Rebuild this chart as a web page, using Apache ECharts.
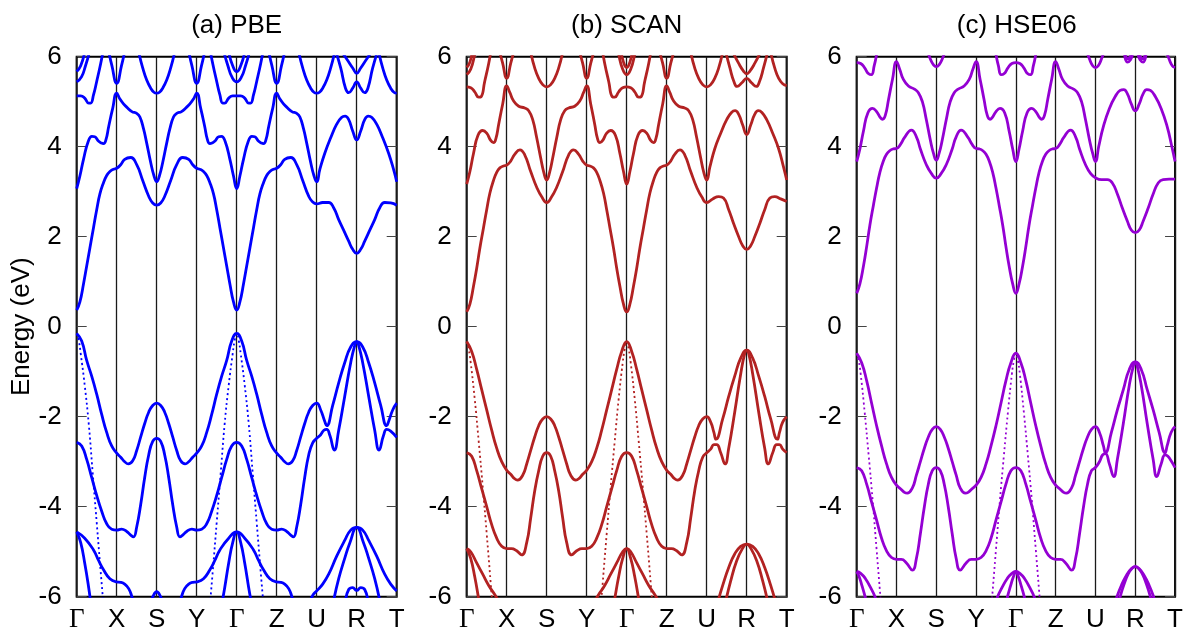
<!DOCTYPE html>
<html>
<head>
<meta charset="utf-8">
<script src="https://cdn.jsdelivr.net/npm/echarts@6/dist/echarts.min.js"></script>
<style>
  html, body { margin: 0; padding: 0; background: #fff; }
  #chart { width: 1186px; height: 638px; }
</style>
</head>
<body>
<div id="chart"></div>
<script>
// High-symmetry path (equally spaced along k) and energy ticks
const kLabels = ['Γ', 'X', 'S', 'Y', 'Γ', 'Z', 'U', 'R', 'T'];
const energyTicks = [-6, -4, -2, 0, 2, 4, 6];
const panelTitles = ['(a) PBE', '(b) SCAN', '(c) HSE06'];
const panelColors = ['#0000ff', '#b22222', '#9400d3'];

// ---------- (a) PBE : [k, E(eV)] ----------
const pbeVB1 = [[0,-0.15],[0.125,-0.32],[0.25,-0.75],[0.375,-1.1],[0.5,-1.5],[0.625,-1.95],[0.75,-2.35],[0.875,-2.65],[1,-2.81],
  [1.1,-2.9],[1.2,-3.0],[1.29,-3.05],[1.4,-2.98],[1.5,-2.75],[1.6,-2.45],[1.7,-2.15],[1.8,-1.9],[1.9,-1.75],[2,-1.7],
  [2.1,-1.75],[2.2,-1.9],[2.3,-2.15],[2.4,-2.45],[2.5,-2.75],[2.6,-2.98],[2.71,-3.05],[2.8,-3.0],[2.9,-2.9],[3,-2.81],
  [3.125,-2.65],[3.25,-2.35],[3.375,-1.95],[3.5,-1.5],[3.625,-1.1],[3.75,-0.75],[3.875,-0.32],[4,-0.15],
  [4.125,-0.32],[4.25,-0.75],[4.375,-1.1],[4.5,-1.5],[4.625,-1.95],[4.75,-2.35],[4.875,-2.65],[5,-2.81],
  [5.1,-2.9],[5.2,-3.0],[5.29,-3.05],[5.4,-2.98],[5.5,-2.75],[5.6,-2.45],[5.7,-2.15],[5.8,-1.9],[5.9,-1.75],[6,-1.7],
  [6.1,-1.85],[6.2,-2.1],[6.25,-2.2],[6.4,-1.75],[6.55,-1.25],[6.7,-0.8],[6.85,-0.45],[7,-0.33],
  [7.15,-0.45],[7.3,-0.8],[7.45,-1.25],[7.6,-1.75],[7.75,-2.2],[7.8,-2.1],[7.9,-1.85],[8,-1.7]];
const pbeVB2 = [[0,-2.57],[0.125,-2.65],[0.25,-2.95],[0.375,-3.35],[0.5,-3.75],[0.625,-4.1],[0.75,-4.38],[0.875,-4.5],[1,-4.52],
  [1.12,-4.5],[1.25,-4.55],[1.35,-4.63],[1.42,-4.67],[1.5,-4.45],[1.6,-3.95],[1.7,-3.35],[1.8,-2.85],[1.9,-2.55],[2,-2.48],
  [2.1,-2.55],[2.2,-2.85],[2.3,-3.35],[2.4,-3.95],[2.5,-4.45],[2.58,-4.67],[2.65,-4.63],[2.75,-4.55],[2.88,-4.5],[3,-4.52],
  [3.125,-4.5],[3.25,-4.38],[3.375,-4.1],[3.5,-3.75],[3.625,-3.35],[3.75,-2.95],[3.875,-2.65],[4,-2.57],
  [4.125,-2.65],[4.25,-2.95],[4.375,-3.35],[4.5,-3.75],[4.625,-4.1],[4.75,-4.38],[4.875,-4.5],[5,-4.52],
  [5.12,-4.5],[5.25,-4.55],[5.35,-4.63],[5.42,-4.67],[5.5,-4.45],[5.6,-3.95],[5.7,-3.35],[5.8,-2.85],[5.9,-2.58],[6,-2.48],
  [6.1,-2.4],[6.18,-2.3],[6.25,-2.28],[6.33,-2.42],[6.44,-2.74],[6.55,-2.3],[6.7,-1.55],[6.85,-0.8],[6.95,-0.42],[7,-0.33],
  [7.05,-0.42],[7.15,-0.8],[7.3,-1.55],[7.45,-2.3],[7.56,-2.74],[7.67,-2.42],[7.75,-2.28],[7.85,-2.32],[8,-2.46]];
const pbeDeep = [
  [[0,-4.56],[0.2,-4.7],[0.42,-4.96],[0.55,-5.2],[0.67,-5.4],[0.83,-5.6],[1,-5.67],[1.1,-5.68],[1.2,-5.72],[1.3,-5.82],[1.38,-6.0],[1.45,-6.2]],
  [[1.85,-6.15],[1.92,-5.97],[2,-5.89],[2.08,-5.97],[2.15,-6.15]],
  [[2.55,-6.2],[2.62,-6.0],[2.7,-5.82],[2.8,-5.72],[2.9,-5.68],[3,-5.67],[3.17,-5.6],[3.33,-5.4],[3.45,-5.2],[3.58,-4.96],[3.8,-4.7],[4,-4.56],
   [4.2,-4.7],[4.42,-4.96],[4.55,-5.2],[4.67,-5.4],[4.83,-5.6],[5,-5.67],[5.1,-5.68],[5.2,-5.72],[5.3,-5.82],[5.38,-6.0],[5.45,-6.2]],
  [[5.8,-6.2],[5.9,-5.97],[6,-5.87],[6.15,-5.72],[6.3,-5.5],[6.5,-5.1],[6.7,-4.75],[6.85,-4.52],[7,-4.46],
   [7.15,-4.52],[7.3,-4.75],[7.5,-5.1],[7.7,-5.5],[7.85,-5.72],[8,-5.87]],
  [[6.42,-6.1],[6.55,-5.6],[6.7,-5.15],[6.83,-4.8],[7,-4.46],[7.17,-4.8],[7.3,-5.15],[7.45,-5.6],[7.58,-6.1]],
  [[6.72,-6.1],[6.8,-5.84],[6.9,-5.8],[7,-5.86],[7.1,-5.8],[7.2,-5.84],[7.28,-6.1]],
  [[0,-4.56],[0.1,-4.8],[0.2,-5.25],[0.3,-5.8],[0.36,-6.2]],
  [[3.62,-6.2],[3.7,-5.8],[3.8,-5.25],[3.9,-4.8],[4,-4.56],[4.1,-4.8],[4.2,-5.25],[4.3,-5.8],[4.38,-6.2]]
];
const pbeSteep = [
  [[0,-0.15],[0.05,-0.3],[0.1,-0.6],[0.2,-1.3],[0.3,-2.15],[0.4,-3.25],[0.5,-4.35],[0.6,-5.45],[0.7,-6.5]],
  [[3.3,-6.5],[3.4,-5.45],[3.5,-4.35],[3.6,-3.25],[3.7,-2.15],[3.8,-1.3],[3.9,-0.6],[3.95,-0.3],[4,-0.15],
   [4.05,-0.3],[4.1,-0.6],[4.2,-1.3],[4.3,-2.15],[4.4,-3.25],[4.5,-4.35],[4.6,-5.45],[4.7,-6.5]]
];
const pbeCB1 = [[0,0.37],[0.08,0.55],[0.17,0.95],[0.25,1.35],[0.33,1.75],[0.42,2.2],[0.5,2.6],[0.58,2.95],[0.67,3.2],[0.75,3.36],[0.83,3.45],[0.92,3.5],[1,3.52],
  [1.1,3.6],[1.2,3.72],[1.35,3.76],[1.5,3.6],[1.65,3.25],[1.8,2.9],[1.9,2.75],[2,2.7],
  [2.1,2.75],[2.2,2.9],[2.35,3.25],[2.5,3.6],[2.65,3.76],[2.8,3.72],[2.9,3.6],[3,3.52],
  [3.08,3.5],[3.17,3.45],[3.25,3.36],[3.33,3.2],[3.42,2.95],[3.5,2.6],[3.58,2.2],[3.67,1.75],[3.75,1.35],[3.83,0.95],[3.92,0.55],[4,0.37],
  [4.08,0.55],[4.17,0.95],[4.25,1.35],[4.33,1.75],[4.42,2.2],[4.5,2.6],[4.58,2.95],[4.67,3.2],[4.75,3.36],[4.83,3.45],[4.92,3.5],[5,3.52],
  [5.1,3.6],[5.2,3.72],[5.35,3.76],[5.5,3.6],[5.65,3.25],[5.8,2.9],[5.9,2.77],[6,2.73],
  [6.15,2.76],[6.3,2.76],[6.42,2.65],[6.55,2.38],[6.67,2.15],[6.8,1.9],[6.9,1.72],[7,1.63],
  [7.1,1.72],[7.2,1.9],[7.33,2.15],[7.45,2.38],[7.58,2.65],[7.7,2.76],[7.85,2.75],[8,2.7]];
const pbeCB2 = [[0,3.07],[0.08,3.35],[0.17,3.72],[0.29,4.12],[0.38,4.23],[0.45,4.22],[0.55,4.12],[0.62,4.08],[0.67,4.07],[0.73,4.15],[0.8,4.45],[0.9,4.85],[1,5.19],
  [1.08,5.06],[1.17,4.95],[1.25,4.88],[1.38,4.78],[1.5,4.74],[1.58,4.66],[1.67,4.4],[1.75,4.08],[1.85,3.65],[1.93,3.36],[2,3.22],
  [2.07,3.36],[2.15,3.65],[2.25,4.08],[2.33,4.4],[2.42,4.66],[2.5,4.74],[2.62,4.78],[2.75,4.88],[2.83,4.95],[2.92,5.06],[3,5.19],
  [3.1,4.85],[3.2,4.45],[3.27,4.15],[3.33,4.07],[3.38,4.08],[3.45,4.12],[3.55,4.22],[3.62,4.23],[3.71,4.12],[3.83,3.72],[3.92,3.35],[4,3.07],
  [4.08,3.35],[4.17,3.72],[4.29,4.12],[4.38,4.23],[4.45,4.22],[4.55,4.12],[4.62,4.08],[4.67,4.07],[4.73,4.15],[4.8,4.45],[4.9,4.85],[5,5.19],
  [5.08,5.06],[5.17,4.95],[5.25,4.88],[5.38,4.78],[5.5,4.74],[5.58,4.66],[5.67,4.4],[5.75,4.08],[5.85,3.65],[5.93,3.36],[6,3.22],
  [6.08,3.5],[6.2,3.85],[6.35,4.2],[6.5,4.5],[6.62,4.65],[6.71,4.68],[6.8,4.6],[6.9,4.35],[7,4.15],
  [7.1,4.35],[7.2,4.6],[7.29,4.68],[7.38,4.65],[7.5,4.5],[7.65,4.2],[7.8,3.85],[7.92,3.5],[8,3.22]];
const pbeHigh = [
  [[0,5.13],[0.1,5.13],[0.2,5.08],[0.3,4.97],[0.35,4.97],[0.42,5.15],[0.5,5.45],[0.6,5.85],[0.7,6.3]],
  [[0,5.44],[0.12,5.55],[0.22,5.8],[0.32,6.1]],
  [[0,5.67],[0.1,5.8],[0.2,6.1]],
  [[0.78,6.2],[0.88,5.8],[1,5.41],[1.12,5.8],[1.22,6.2]],
  [[1.55,6.1],[1.65,5.75],[1.75,5.48],[1.85,5.3],[1.93,5.21],[2,5.19],[2.07,5.21],[2.15,5.3],[2.25,5.48],[2.35,5.75],[2.45,6.1]],
  [[2.78,6.2],[2.88,5.8],[3,5.41],[3.12,5.8],[3.22,6.2]],
  [[3.3,6.3],[3.4,5.85],[3.5,5.45],[3.58,5.15],[3.65,4.97],[3.7,4.97],[3.8,5.08],[3.9,5.13],[4,5.13],
   [4.1,5.13],[4.2,5.08],[4.3,4.97],[4.35,4.97],[4.42,5.15],[4.5,5.45],[4.6,5.85],[4.7,6.3]],
  [[3.68,6.1],[3.78,5.8],[3.88,5.55],[4,5.44],[4.12,5.55],[4.22,5.8],[4.32,6.1]],
  [[3.8,6.1],[3.9,5.8],[4,5.67],[4.1,5.8],[4.2,6.1]],
  [[4.78,6.2],[4.88,5.8],[5,5.41],[5.12,5.8],[5.22,6.2]],
  [[5.55,6.1],[5.65,5.75],[5.75,5.48],[5.85,5.3],[5.93,5.21],[6,5.19],[6.07,5.21],[6.15,5.3],[6.25,5.48],[6.35,5.75],[6.45,6.1]],
  [[6.45,6.2],[6.6,5.75],[6.72,5.3],[6.8,5.2],[6.9,5.3],[7,5.44],[7.1,5.3],[7.2,5.2],[7.28,5.3],[7.4,5.75],[7.55,6.2]],
  [[6.55,6.2],[6.75,5.95],[6.9,5.75],[7,5.63],[7.1,5.75],[7.25,5.95],[7.45,6.2]],
  [[7.55,6.1],[7.65,5.75],[7.75,5.48],[7.85,5.3],[7.93,5.21],[8,5.19]]
];

// ---------- (b) SCAN ----------
const scanVB1 = [[0,-0.33],[0.125,-0.55],[0.25,-0.95],[0.375,-1.4],[0.5,-1.85],[0.625,-2.3],[0.75,-2.7],[0.875,-3.0],[1,-3.19],
  [1.1,-3.28],[1.2,-3.38],[1.27,-3.41],[1.4,-3.3],[1.5,-3.05],[1.6,-2.75],[1.7,-2.45],[1.8,-2.2],[1.9,-2.05],[2,-2.0],
  [2.1,-2.05],[2.2,-2.2],[2.3,-2.45],[2.4,-2.75],[2.5,-3.05],[2.6,-3.3],[2.73,-3.41],[2.8,-3.38],[2.9,-3.28],[3,-3.19],
  [3.125,-3.0],[3.25,-2.7],[3.375,-2.3],[3.5,-1.85],[3.625,-1.4],[3.75,-0.95],[3.875,-0.55],[4,-0.33],
  [4.125,-0.55],[4.25,-0.95],[4.375,-1.4],[4.5,-1.85],[4.625,-2.3],[4.75,-2.7],[4.875,-3.0],[5,-3.19],
  [5.1,-3.28],[5.2,-3.38],[5.27,-3.41],[5.4,-3.3],[5.5,-3.05],[5.6,-2.75],[5.7,-2.45],[5.8,-2.2],[5.9,-2.05],[6,-2.0],
  [6.1,-2.12],[6.18,-2.35],[6.23,-2.5],[6.4,-2.05],[6.55,-1.55],[6.7,-1.1],[6.85,-0.7],[7,-0.52],
  [7.15,-0.7],[7.3,-1.1],[7.45,-1.55],[7.6,-2.05],[7.77,-2.5],[7.82,-2.35],[7.9,-2.12],[8,-2.0]];
const scanVB2 = [[0,-2.8],[0.125,-2.88],[0.25,-3.2],[0.375,-3.6],[0.5,-4.0],[0.625,-4.4],[0.75,-4.7],[0.875,-4.88],[1,-4.93],
  [1.12,-4.93],[1.25,-4.98],[1.375,-5.07],[1.5,-4.8],[1.6,-4.25],[1.7,-3.65],[1.8,-3.2],[1.9,-2.88],[2,-2.8],
  [2.1,-2.88],[2.2,-3.2],[2.3,-3.65],[2.4,-4.25],[2.5,-4.8],[2.625,-5.07],[2.75,-4.98],[2.88,-4.93],[3,-4.93],
  [3.125,-4.88],[3.25,-4.7],[3.375,-4.4],[3.5,-4.0],[3.625,-3.6],[3.75,-3.2],[3.875,-2.88],[4,-2.8],
  [4.125,-2.88],[4.25,-3.2],[4.375,-3.6],[4.5,-4.0],[4.625,-4.4],[4.75,-4.7],[4.875,-4.88],[5,-4.93],
  [5.12,-4.93],[5.25,-4.98],[5.375,-5.07],[5.5,-4.8],[5.6,-4.25],[5.7,-3.65],[5.8,-3.2],[5.9,-2.9],[6,-2.8],
  [6.1,-2.72],[6.18,-2.62],[6.25,-2.62],[6.35,-2.8],[6.46,-3.05],[6.55,-2.7],[6.7,-1.9],[6.85,-1.05],[6.95,-0.6],[7,-0.52],
  [7.05,-0.6],[7.15,-1.05],[7.3,-1.9],[7.45,-2.7],[7.54,-3.05],[7.65,-2.8],[7.75,-2.62],[7.82,-2.62],[7.9,-2.72],[8,-2.8]];
const scanDeep = [
  [[0,-4.93],[0.1,-5.0],[0.25,-5.25],[0.4,-5.5],[0.55,-5.75],[0.7,-5.95],[0.8,-6.1],[0.9,-6.25]],
  [[0,-4.93],[0.1,-5.15],[0.2,-5.55],[0.3,-6.05],[0.35,-6.3]],
  [[3.1,-6.25],[3.2,-6.1],[3.3,-5.95],[3.45,-5.75],[3.6,-5.5],[3.75,-5.25],[3.9,-5.0],[4,-4.93],
   [4.1,-5.0],[4.25,-5.25],[4.4,-5.5],[4.55,-5.75],[4.7,-5.95],[4.8,-6.1],[4.9,-6.25]],
  [[3.65,-6.3],[3.7,-6.05],[3.8,-5.55],[3.9,-5.15],[4,-4.93],[4.1,-5.15],[4.2,-5.55],[4.3,-6.05],[4.35,-6.3]],
  [[6.25,-6.2],[6.4,-5.75],[6.55,-5.35],[6.7,-5.05],[6.85,-4.88],[7,-4.83],[7.15,-4.88],[7.3,-5.05],[7.45,-5.35],[7.6,-5.75],[7.75,-6.2]],
  [[6.45,-6.2],[6.6,-5.65],[6.75,-5.2],[6.9,-4.92],[7,-4.83],[7.1,-4.92],[7.25,-5.2],[7.4,-5.65],[7.55,-6.2]]
];
const scanSteep = [
  [[0,-0.33],[0.05,-0.5],[0.1,-0.8],[0.2,-1.6],[0.3,-2.55],[0.4,-3.55],[0.5,-4.6],[0.6,-5.7],[0.66,-6.4]],
  [[3.34,-6.4],[3.4,-5.7],[3.5,-4.6],[3.6,-3.55],[3.7,-2.55],[3.8,-1.6],[3.9,-0.8],[3.95,-0.5],[4,-0.33],
   [4.05,-0.5],[4.1,-0.8],[4.2,-1.6],[4.3,-2.55],[4.4,-3.55],[4.5,-4.6],[4.6,-5.7],[4.66,-6.4]]
];
const scanCB1 = [[0,0.33],[0.08,0.5],[0.17,0.9],[0.25,1.3],[0.33,1.75],[0.42,2.2],[0.5,2.6],[0.58,2.97],[0.67,3.25],[0.75,3.43],[0.83,3.53],[0.92,3.57],[1,3.59],
  [1.1,3.68],[1.2,3.83],[1.33,3.93],[1.45,3.82],[1.6,3.45],[1.75,3.1],[1.88,2.88],[2,2.76],
  [2.12,2.88],[2.25,3.1],[2.4,3.45],[2.55,3.82],[2.67,3.93],[2.8,3.83],[2.9,3.68],[3,3.59],
  [3.08,3.57],[3.17,3.53],[3.25,3.43],[3.33,3.25],[3.42,2.97],[3.5,2.6],[3.58,2.2],[3.67,1.75],[3.75,1.3],[3.83,0.9],[3.92,0.5],[4,0.33],
  [4.08,0.5],[4.17,0.9],[4.25,1.3],[4.33,1.75],[4.42,2.2],[4.5,2.6],[4.58,2.97],[4.67,3.25],[4.75,3.43],[4.83,3.53],[4.92,3.57],[5,3.59],
  [5.1,3.68],[5.2,3.83],[5.33,3.93],[5.45,3.82],[5.6,3.45],[5.75,3.1],[5.88,2.88],[6,2.76],
  [6.15,2.84],[6.3,2.89],[6.42,2.86],[6.55,2.6],[6.67,2.3],[6.8,2.0],[6.9,1.8],[7,1.72],
  [7.1,1.8],[7.2,2.0],[7.33,2.3],[7.45,2.6],[7.58,2.86],[7.7,2.89],[7.85,2.84],[8,2.78]];
const scanCB2 = [[0,3.17],[0.08,3.45],[0.17,3.85],[0.28,4.25],[0.4,4.36],[0.5,4.3],[0.6,4.14],[0.67,4.09],[0.73,4.18],[0.8,4.5],[0.9,4.95],[1,5.35],
  [1.08,5.2],[1.17,5.02],[1.3,4.9],[1.45,4.86],[1.55,4.8],[1.65,4.6],[1.75,4.2],[1.85,3.75],[1.93,3.42],[2,3.26],
  [2.07,3.42],[2.15,3.75],[2.25,4.2],[2.35,4.6],[2.45,4.8],[2.55,4.86],[2.7,4.9],[2.83,5.02],[2.92,5.2],[3,5.35],
  [3.1,4.95],[3.2,4.5],[3.27,4.18],[3.33,4.09],[3.4,4.14],[3.5,4.3],[3.6,4.36],[3.72,4.25],[3.83,3.85],[3.92,3.45],[4,3.17],
  [4.08,3.45],[4.17,3.85],[4.28,4.25],[4.4,4.36],[4.5,4.3],[4.6,4.14],[4.67,4.09],[4.73,4.18],[4.8,4.5],[4.9,4.95],[5,5.35],
  [5.08,5.2],[5.17,5.02],[5.3,4.9],[5.45,4.86],[5.55,4.8],[5.65,4.6],[5.75,4.2],[5.85,3.75],[5.93,3.42],[6,3.26],
  [6.08,3.55],[6.2,3.95],[6.35,4.3],[6.5,4.6],[6.62,4.76],[6.71,4.8],[6.8,4.72],[6.9,4.48],[7,4.27],
  [7.1,4.48],[7.2,4.72],[7.29,4.8],[7.38,4.76],[7.5,4.6],[7.65,4.3],[7.8,3.95],[7.92,3.55],[8,3.26]];
const scanHigh = [
  [[0,5.33],[0.1,5.31],[0.2,5.22],[0.3,5.1],[0.36,5.11],[0.45,5.45],[0.55,5.85],[0.62,6.2]],
  [[0,5.6],[0.1,5.72],[0.2,6.05],[0.25,6.3]],
  [[0,5.76],[0.08,5.88],[0.16,6.2]],
  [[0.8,6.2],[0.9,5.85],[1,5.52],[1.1,5.85],[1.2,6.2]],
  [[1.6,6.1],[1.7,5.75],[1.8,5.52],[1.9,5.38],[2,5.33],[2.1,5.38],[2.2,5.52],[2.3,5.75],[2.4,6.1]],
  [[2.8,6.2],[2.9,5.85],[3,5.52],[3.1,5.85],[3.2,6.2]],
  [[3.38,6.2],[3.45,5.85],[3.55,5.45],[3.64,5.11],[3.7,5.1],[3.8,5.22],[3.9,5.31],[4,5.33],
   [4.1,5.31],[4.2,5.22],[4.3,5.1],[4.36,5.11],[4.45,5.45],[4.55,5.85],[4.62,6.2]],
  [[3.75,6.3],[3.8,6.05],[3.9,5.72],[4,5.6],[4.1,5.72],[4.2,6.05],[4.25,6.3]],
  [[3.84,6.2],[3.92,5.88],[4,5.76],[4.08,5.88],[4.16,6.2]],
  [[4.8,6.2],[4.9,5.85],[5,5.52],[5.1,5.85],[5.2,6.2]],
  [[5.6,6.1],[5.7,5.75],[5.8,5.52],[5.9,5.38],[6,5.33],[6.1,5.38],[6.2,5.52],[6.3,5.75],[6.4,6.1]],
  [[6.45,6.2],[6.58,5.75],[6.68,5.45],[6.76,5.34],[6.88,5.42],[7,5.52],[7.12,5.42],[7.24,5.34],[7.32,5.45],[7.42,5.75],[7.55,6.2]],
  [[6.6,6.2],[6.8,5.85],[6.92,5.68],[7,5.62],[7.08,5.68],[7.2,5.85],[7.4,6.2]],
  [[7.6,6.1],[7.7,5.75],[7.8,5.52],[7.9,5.4],[8,5.36]]
];

// ---------- (c) HSE06 ----------
const hseVB1 = [[0,-0.59],[0.125,-0.8],[0.25,-1.2],[0.375,-1.7],[0.5,-2.2],[0.625,-2.65],[0.75,-3.05],[0.875,-3.35],[1,-3.52],
  [1.1,-3.6],[1.2,-3.68],[1.27,-3.7],[1.4,-3.58],[1.5,-3.3],[1.6,-3.0],[1.7,-2.7],[1.8,-2.45],[1.9,-2.28],[2,-2.22],
  [2.1,-2.28],[2.2,-2.45],[2.3,-2.7],[2.4,-3.0],[2.5,-3.3],[2.6,-3.58],[2.73,-3.7],[2.8,-3.68],[2.9,-3.6],[3,-3.52],
  [3.125,-3.35],[3.25,-3.05],[3.375,-2.65],[3.5,-2.2],[3.625,-1.7],[3.75,-1.2],[3.875,-0.8],[4,-0.59],
  [4.125,-0.8],[4.25,-1.2],[4.375,-1.7],[4.5,-2.2],[4.625,-2.65],[4.75,-3.05],[4.875,-3.35],[5,-3.52],
  [5.1,-3.6],[5.2,-3.68],[5.27,-3.7],[5.4,-3.58],[5.5,-3.3],[5.6,-3.0],[5.7,-2.7],[5.8,-2.45],[5.9,-2.28],[6,-2.22],
  [6.1,-2.35],[6.2,-2.65],[6.25,-2.8],[6.4,-2.35],[6.55,-1.85],[6.7,-1.4],[6.85,-0.95],[7,-0.78],
  [7.15,-0.95],[7.3,-1.4],[7.45,-1.85],[7.6,-2.35],[7.75,-2.8],[7.8,-2.65],[7.9,-2.35],[8,-2.22]];
const hseVB2 = [[0,-3.13],[0.125,-3.2],[0.25,-3.5],[0.375,-3.9],[0.5,-4.3],[0.625,-4.7],[0.75,-4.98],[0.875,-5.13],[1,-5.17],
  [1.12,-5.17],[1.25,-5.25],[1.4,-5.41],[1.5,-5.15],[1.6,-4.6],[1.7,-4.0],[1.8,-3.5],[1.9,-3.2],[2,-3.13],
  [2.1,-3.2],[2.2,-3.5],[2.3,-4.0],[2.4,-4.6],[2.5,-5.15],[2.6,-5.41],[2.75,-5.25],[2.88,-5.17],[3,-5.17],
  [3.125,-5.13],[3.25,-4.98],[3.375,-4.7],[3.5,-4.3],[3.625,-3.9],[3.75,-3.5],[3.875,-3.2],[4,-3.13],
  [4.125,-3.2],[4.25,-3.5],[4.375,-3.9],[4.5,-4.3],[4.625,-4.7],[4.75,-4.98],[4.875,-5.13],[5,-5.17],
  [5.12,-5.17],[5.25,-5.25],[5.4,-5.41],[5.5,-5.15],[5.6,-4.6],[5.7,-4.0],[5.8,-3.5],[5.9,-3.2],[6,-3.13],
  [6.1,-3.0],[6.18,-2.85],[6.25,-2.82],[6.35,-3.05],[6.46,-3.33],[6.55,-2.95],[6.7,-2.15],[6.85,-1.3],[6.95,-0.88],[7,-0.78],
  [7.05,-0.88],[7.15,-1.3],[7.3,-2.15],[7.45,-2.95],[7.54,-3.33],[7.65,-3.05],[7.75,-2.85],[7.82,-2.88],[7.9,-2.98],[8,-3.13]];
const hseDeep = [
  [[0,-5.44],[0.1,-5.48],[0.22,-5.6],[0.35,-5.8],[0.46,-6.0],[0.55,-6.25]],
  [[0,-5.44],[0.06,-5.55],[0.13,-5.75],[0.21,-6.0],[0.28,-6.3]],
  [[3.45,-6.25],[3.54,-6.0],[3.65,-5.8],[3.78,-5.6],[3.9,-5.48],[4,-5.44],[4.1,-5.48],[4.22,-5.6],[4.35,-5.8],[4.46,-6.0],[4.55,-6.25]],
  [[3.72,-6.3],[3.79,-6.0],[3.87,-5.75],[3.94,-5.55],[4,-5.44],[4.06,-5.55],[4.13,-5.75],[4.21,-6.0],[4.28,-6.3]],
  [[6.45,-6.25],[6.54,-6.0],[6.65,-5.75],[6.78,-5.52],[6.9,-5.38],[7,-5.33],[7.1,-5.38],[7.22,-5.52],[7.35,-5.75],[7.46,-6.0],[7.55,-6.25]],
  [[6.55,-6.25],[6.62,-6.0],[6.72,-5.72],[6.82,-5.5],[6.92,-5.37],[7,-5.33],[7.08,-5.37],[7.18,-5.5],[7.28,-5.72],[7.38,-6.0],[7.45,-6.25]]
];
const hseSteep = [
  [[0,-0.59],[0.05,-0.75],[0.1,-1.05],[0.2,-1.9],[0.3,-2.85],[0.4,-3.85],[0.5,-4.95],[0.6,-6.05],[0.65,-6.6]],
  [[3.35,-6.6],[3.4,-6.05],[3.5,-4.95],[3.6,-3.85],[3.7,-2.85],[3.8,-1.9],[3.9,-1.05],[3.95,-0.75],[4,-0.59],
   [4.05,-0.75],[4.1,-1.05],[4.2,-1.9],[4.3,-2.85],[4.4,-3.85],[4.5,-4.95],[4.6,-6.05],[4.65,-6.6]]
];
const hseCB1 = [[0,0.74],[0.08,0.95],[0.17,1.35],[0.25,1.78],[0.33,2.25],[0.42,2.7],[0.5,3.08],[0.58,3.42],[0.67,3.68],[0.75,3.83],[0.83,3.91],[0.92,3.95],[1,3.96],
  [1.1,4.05],[1.2,4.2],[1.375,4.37],[1.5,4.22],[1.6,3.95],[1.75,3.6],[1.88,3.4],[2,3.3],
  [2.12,3.4],[2.25,3.6],[2.4,3.95],[2.5,4.22],[2.625,4.37],[2.8,4.2],[2.9,4.05],[3,3.96],
  [3.08,3.95],[3.17,3.91],[3.25,3.83],[3.33,3.68],[3.42,3.42],[3.5,3.08],[3.58,2.7],[3.67,2.25],[3.75,1.78],[3.83,1.35],[3.92,0.95],[4,0.74],
  [4.08,0.95],[4.17,1.35],[4.25,1.78],[4.33,2.25],[4.42,2.7],[4.5,3.08],[4.58,3.42],[4.67,3.68],[4.75,3.83],[4.83,3.91],[4.92,3.95],[5,3.96],
  [5.1,4.05],[5.2,4.2],[5.375,4.37],[5.5,4.22],[5.6,3.95],[5.75,3.6],[5.88,3.4],[6,3.31],
  [6.15,3.27],[6.3,3.27],[6.42,3.2],[6.55,2.95],[6.67,2.65],[6.8,2.35],[6.9,2.15],[7,2.09],
  [7.1,2.15],[7.2,2.35],[7.33,2.65],[7.45,2.95],[7.58,3.2],[7.7,3.27],[7.85,3.28],[8,3.28]];
const hseCB2 = [[0,3.67],[0.08,3.95],[0.17,4.35],[0.28,4.75],[0.4,4.85],[0.5,4.78],[0.6,4.64],[0.65,4.61],[0.72,4.7],[0.8,5.05],[0.9,5.5],[1,5.89],
  [1.08,5.72],[1.17,5.5],[1.3,5.35],[1.45,5.28],[1.55,5.2],[1.65,5.0],[1.75,4.6],[1.85,4.15],[1.93,3.85],[2,3.7],
  [2.07,3.85],[2.15,4.15],[2.25,4.6],[2.35,5.0],[2.45,5.2],[2.55,5.28],[2.7,5.35],[2.83,5.5],[2.92,5.72],[3,5.89],
  [3.1,5.5],[3.2,5.05],[3.28,4.7],[3.35,4.61],[3.4,4.64],[3.5,4.78],[3.6,4.85],[3.72,4.75],[3.83,4.35],[3.92,3.95],[4,3.67],
  [4.08,3.95],[4.17,4.35],[4.28,4.75],[4.4,4.85],[4.5,4.78],[4.6,4.64],[4.65,4.61],[4.72,4.7],[4.8,5.05],[4.9,5.5],[5,5.89],
  [5.08,5.72],[5.17,5.5],[5.3,5.35],[5.45,5.28],[5.55,5.2],[5.65,5.0],[5.75,4.6],[5.85,4.15],[5.93,3.85],[6,3.67],
  [6.08,4.0],[6.2,4.45],[6.35,4.85],[6.5,5.12],[6.62,5.25],[6.71,5.27],[6.8,5.18],[6.9,4.95],[7,4.8],
  [7.1,4.95],[7.2,5.18],[7.29,5.27],[7.38,5.25],[7.5,5.12],[7.65,4.85],[7.8,4.45],[7.92,4.0],[8,3.67]];
const hseHigh = [
  [[0,5.87],[0.1,5.85],[0.2,5.75],[0.3,5.62],[0.37,5.6],[0.44,5.8],[0.5,6.05],[0.55,6.3]],
  [[1.75,6.2],[1.85,5.95],[1.93,5.82],[2,5.78],[2.07,5.82],[2.15,5.95],[2.25,6.2]],
  [[3.45,6.3],[3.5,6.05],[3.56,5.8],[3.63,5.6],[3.7,5.62],[3.8,5.75],[3.9,5.85],[4,5.87],
   [4.1,5.85],[4.2,5.75],[4.3,5.62],[4.37,5.6],[4.44,5.8],[4.5,6.05],[4.55,6.3]],
  [[5.75,6.2],[5.85,5.95],[5.93,5.8],[6,5.76],[6.07,5.8],[6.15,5.95],[6.25,6.2]],
  [[6.72,6.15],[6.8,5.88],[6.88,5.93],[6.95,6.1],[7,6.2]],
  [[7,6.2],[7.05,6.1],[7.12,5.93],[7.2,5.88],[7.28,6.15]],
  [[6.74,6.2],[6.8,5.95],[6.87,6.0],[6.93,6.2]],
  [[7.07,6.2],[7.13,6.0],[7.2,5.95],[7.26,6.2]],
  [[7.75,6.2],[7.85,5.95],[7.93,5.8],[8,5.76]]
];

// ---------- layout ----------
const FONT = '"Liberation Sans", Arial, Helvetica, sans-serif';
const gridLefts = [76.7, 466.7, 856.7];
const GRID_TOP = 56.7, GRID_W = 320, GRID_H = 540;

const panels = [
  { solid: [pbeVB1, pbeVB2, pbeCB1, pbeCB2, ...pbeDeep, ...pbeHigh], dotted: pbeSteep },
  { solid: [scanVB1, scanVB2, scanCB1, scanCB2, ...scanDeep, ...scanHigh], dotted: scanSteep },
  { solid: [hseVB1, hseVB2, hseCB1, hseCB2, ...hseDeep, ...hseHigh], dotted: hseSteep }
];

const grids = [], xAxes = [], yAxes = [], series = [], graphics = [];

panels.forEach((p, i) => {
  grids.push({
    left: gridLefts[i], top: GRID_TOP, width: GRID_W, height: GRID_H,
    show: true, borderColor: '#000', borderWidth: 2, backgroundColor: 'transparent'
  });
  xAxes.push({
    gridIndex: i, type: 'value', min: 0, max: kLabels.length - 1, interval: 1,
    axisLine: { show: false }, axisTick: { show: false },
    splitLine: { show: true, lineStyle: { color: '#1a1a1a', width: 1.3 } },
    axisLabel: {
      margin: 10, fontSize: 26, fontFamily: FONT, color: '#000',
      formatter: v => {
        const s = kLabels[Math.round(v)];
        return s === 'Γ' ? '{g|Γ}' : s;
      },
      rich: { g: { fontFamily: '"Liberation Serif", "Times New Roman", serif', fontSize: 27, color: '#000' } }
    }
  });
  yAxes.push({
    gridIndex: i, type: 'value', position: 'left',
    min: energyTicks[0], max: energyTicks[energyTicks.length - 1], interval: 2,
    axisLine: { show: false },
    axisTick: { show: true, inside: true, length: 10, lineStyle: { color: '#444', width: 1 } },
    splitLine: { show: false },
    axisLabel: { margin: 15, fontSize: 26, fontFamily: FONT, color: '#000' },
    name: i === 0 ? 'Energy (eV)' : '',
    nameLocation: 'middle', nameGap: 35, nameRotate: 90,
    nameTextStyle: { fontSize: 26, fontFamily: FONT, color: '#000' }
  });
  yAxes.push({
    gridIndex: i, type: 'value', position: 'right',
    min: energyTicks[0], max: energyTicks[energyTicks.length - 1], interval: 2,
    axisLine: { show: false },
    axisTick: { show: true, inside: true, length: 10, lineStyle: { color: '#444', width: 1 } },
    splitLine: { show: false }, axisLabel: { show: false }
  });

  const color = panelColors[i];
  p.solid.forEach(band => series.push({
    type: 'line', xAxisIndex: i, yAxisIndex: i * 2, data: band,
    showSymbol: false, symbol: 'none', smooth: 0.5,
    lineStyle: { color, width: 2.8 }, silent: true, z: 3
  }));
  p.dotted.forEach(band => series.push({
    type: 'line', xAxisIndex: i, yAxisIndex: i * 2, data: band,
    showSymbol: false, symbol: 'none', smooth: 0.5,
    lineStyle: { color, width: 1.8, type: [2, 3] }, silent: true, z: 3
  }));

  graphics.push({
    type: 'text', x: gridLefts[i] + GRID_W / 2, y: 26,
    style: {
      text: panelTitles[i], fill: '#000', font: '26px ' + FONT,
      align: 'center', verticalAlign: 'middle', textAlign: 'center', textVerticalAlign: 'middle'
    }
  });
});

const chart = echarts.init(document.getElementById('chart'), null, { renderer: 'canvas' });
chart.setOption({
  animation: false,
  backgroundColor: '#fff',
  grid: grids, xAxis: xAxes, yAxis: yAxes, series: series,
  graphic: graphics
});
</script>
</body>
</html>
